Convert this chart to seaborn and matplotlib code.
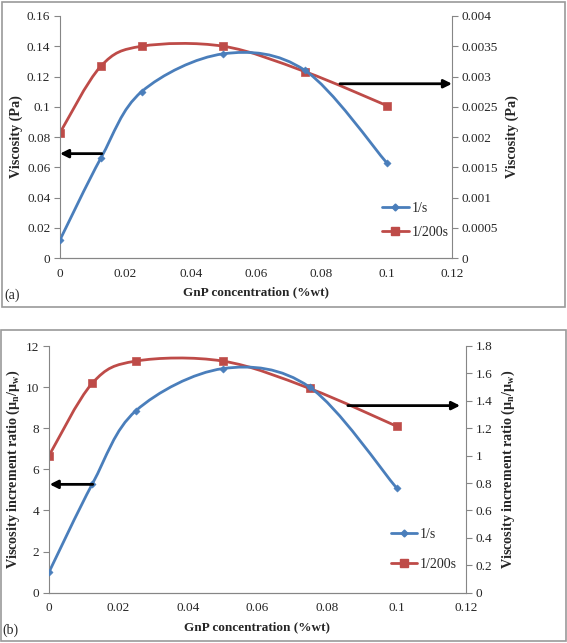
import matplotlib
matplotlib.use("Agg")
import matplotlib.pyplot as plt
import numpy as np
import pandas as pd
import seaborn as sns
from matplotlib.patches import PathPatch, Rectangle
from matplotlib.path import Path as MPath
from matplotlib.lines import Line2D

# data
gnp = [0, 0.0125, 0.025, 0.05, 0.075, 0.1]
visc_1s = [0.012, 0.066, 0.110, 0.135, 0.124, 0.063]
visc_200s = [0.00207, 0.00317, 0.00350, 0.00350, 0.00308, 0.00252]
ratio_1s = [1.0, 5.3, 8.85, 10.9, 10.0, 5.1]
ratio_200s = [1.0, 1.53, 1.69, 1.69, 1.49, 1.215]

BLUE = "#4A7EBB"
RED = "#BE4B48"
GRID = "#868686"

sns.set_theme(style="white")
plt.rcParams["font.family"] = ["Liberation Serif", "DejaVu Serif"]
plt.rcParams["mathtext.fontset"] = "custom"
plt.rcParams["mathtext.rm"] = "Liberation Serif"
plt.rcParams["mathtext.bf"] = "Liberation Serif:bold"
plt.rcParams["font.size"] = 9.5


def smooth_line(ax, x, y, color):
    """Excel-style smoothed line (Catmull-Rom as cubic Bezier)."""
    pts = np.column_stack([x, y]).astype(float)
    n = len(pts)
    verts = [pts[0]]
    codes = [MPath.MOVETO]
    for i in range(n - 1):
        p0 = pts[max(i - 1, 0)]
        p1 = pts[i]
        p2 = pts[i + 1]
        p3 = pts[min(i + 2, n - 1)]
        verts += [p1 + (p2 - p0) / 6, p2 - (p3 - p1) / 6, p2]
        codes += [MPath.CURVE4] * 3
    ax.add_patch(PathPatch(MPath(verts, codes), facecolor="none",
                           edgecolor=color, lw=2.0, zorder=2))


def style_axis(ax):
    ax.spines["top"].set_visible(False)
    for s in ["left", "right", "bottom"]:
        ax.spines[s].set_color(GRID)
        ax.spines[s].set_linewidth(0.8)
    ax.tick_params(axis="both", direction="out", length=4, width=0.8,
                   color=GRID, labelsize=9.5, pad=3)
    ax.grid(False)


def panel(rect, y1, y2, ylim1, ylim2, yt1, yt2, ylab, arrows,
          legend_pos, fmt2):
    ax = fig.add_axes(rect)
    ax2 = ax.twinx()
    df1 = pd.DataFrame({"x": gnp, "y": y1})
    df2 = pd.DataFrame({"x": gnp, "y": y2})
    smooth_line(ax, gnp, y1, BLUE)
    smooth_line(ax2, gnp, y2, RED)
    sns.scatterplot(data=df1, x="x", y="y", ax=ax, marker="D", s=14,
                    color=BLUE, edgecolor=BLUE, zorder=3)
    sns.scatterplot(data=df2, x="x", y="y", ax=ax2, marker="s", s=34,
                    color=RED, edgecolor=RED, zorder=3)
    ax.set_xlim(0, 0.12)
    ax.set_xticks(np.arange(0, 0.121, 0.02))
    ax.set_xticklabels(["0", "0.02", "0.04", "0.06", "0.08", "0.1", "0.12"])
    ax.set_ylim(*ylim1)
    ax.set_yticks(yt1)
    ax.set_yticklabels([f"{v:g}" for v in yt1])
    ax2.set_ylim(*ylim2)
    ax2.set_yticks(yt2)
    ax2.set_yticklabels([fmt2(v) for v in yt2])
    style_axis(ax)
    style_axis(ax2)
    ax2.spines["left"].set_visible(False)
    ax.spines["right"].set_visible(False)
    ax.set_xlabel("GnP concentration (%wt)", fontweight="bold", fontsize=9.5,
                  labelpad=5)
    ax.set_ylabel(ylab, fontweight="bold", fontsize=10.2, labelpad=3)
    ax2.set_ylabel(ylab, fontweight="bold", fontsize=10.2, labelpad=5)
    ax.set_zorder(ax2.get_zorder() + 1)
    ax.patch.set_visible(False)

    # arrows pointing to the axis each series belongs to
    (lx0, lx1, ly), (rx0, rx1, ry) = arrows
    aprops = dict(arrowstyle="-|>", color="black", lw=2.0,
                  mutation_scale=12, shrinkA=0, shrinkB=0)
    ax.annotate("", xy=(lx1, ly), xytext=(lx0, ly), arrowprops=aprops)
    ax2.annotate("", xy=(rx1, ry), xytext=(rx0, ry), arrowprops=aprops,
                 annotation_clip=False)

    handles = [
        Line2D([], [], color=BLUE, lw=2, marker="D", markersize=3.5),
        Line2D([], [], color=RED, lw=2, marker="s", markersize=6),
    ]
    ax.legend(handles, ["1/s", "1/200s"], frameon=False, loc="center left",
              bbox_to_anchor=(0.79, legend_pos[0]), handlelength=1.9,
              handletextpad=0.2, labelspacing=legend_pos[1], fontsize=10)
    return ax


fig = plt.figure(figsize=(5.67, 6.43), dpi=100)

# panel frames
fig.patches.append(Rectangle((2 / 567, 1 - 307 / 643), 563 / 567, 305 / 643,
                             transform=fig.transFigure, fill=False,
                             edgecolor="#9a9a9a", lw=1.2))
fig.patches.append(Rectangle((1 / 567, 1 - 641 / 643), 565 / 567, 311 / 643,
                             transform=fig.transFigure, fill=False,
                             edgecolor="#9a9a9a", lw=1.2))

panel([60 / 567, 1 - 258 / 643, 392 / 567, 242 / 643],
      visc_1s, visc_200s, (0, 0.16), (0, 0.004),
      np.arange(0, 0.161, 0.02), np.arange(0, 0.00401, 0.0005),
      "Viscosity (Pa)",
      ((0.0128, 0.0, 0.069), (0.0857, 0.12, 0.00288)),
      (0.155, 0.75),
      lambda v: f"{v:g}")

panel([49 / 567, 1 - 592.7 / 643, 417 / 567, 246.7 / 643],
      ratio_1s, ratio_200s, (0, 12), (0, 1.8),
      np.arange(0, 12.1, 2), np.arange(0, 1.81, 0.2),
      "Viscosity increment ratio (μ$_\\mathbf{n}$/μ$_\\mathbf{w}$)",
      ((0.0126, 0.0002, 5.27), (0.086, 0.1183, 1.365)),
      (0.176, 1.25),
      lambda v: f"{round(v, 1):g}")

fig.text(4 / 567, 1 - 295 / 643, "(a)", fontsize=10, va="center", ha="left")
fig.text(2 / 567, 1 - 630 / 643, "(b)", fontsize=10, va="center", ha="left")

fig.savefig("out.png", dpi=100)
